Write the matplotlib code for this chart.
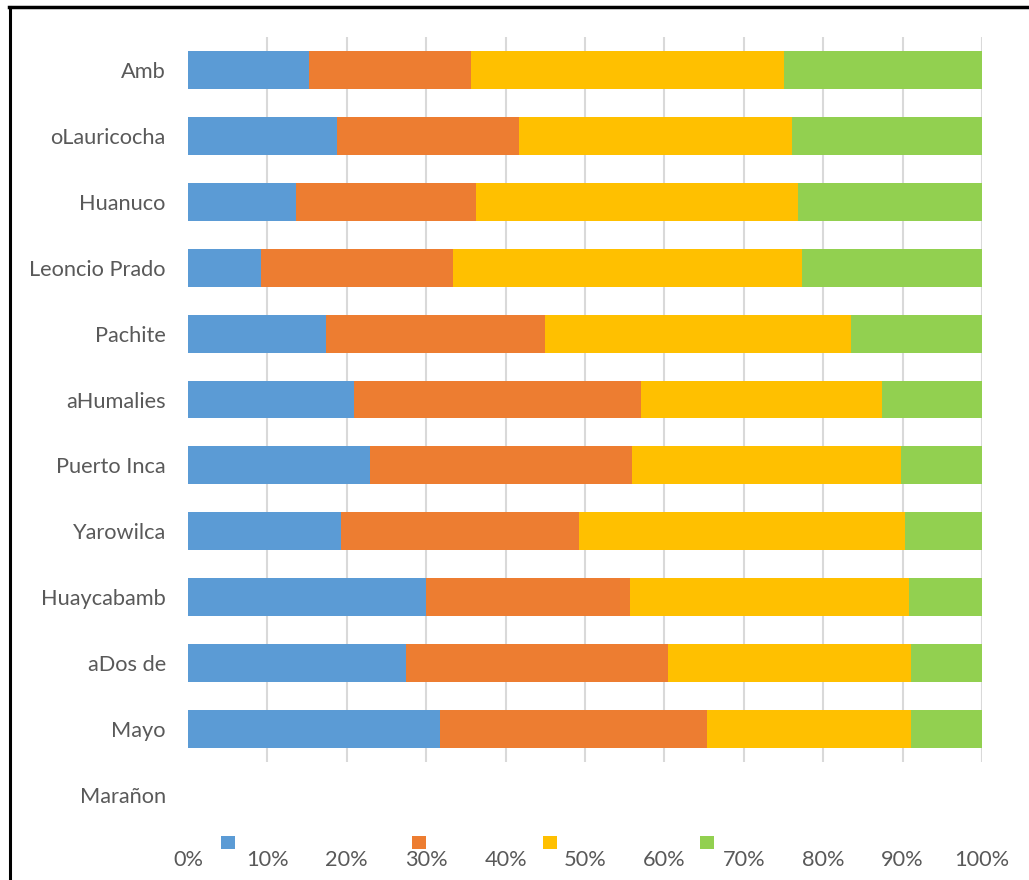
import matplotlib
matplotlib.use("Agg")
import matplotlib.pyplot as plt
from matplotlib.patches import Patch
from matplotlib.lines import Line2D
import numpy as np

plt.rcParams['font.family'] = ['Lato', 'DejaVu Sans']

categories = ["Amb", "oLauricocha", "Huanuco", "Leoncio Prado", "Pachite",
              "aHumalies", "Puerto Inca", "Yarowilca", "Huaycabamb", "aDos de",
              "Mayo", "Marañon"]
serie1 = [15.25, 18.8, 13.6, 9.2, 17.4, 20.9, 22.9, 19.3, 30.0, 27.5, 31.7, 0]
serie2 = [20.4, 22.9, 22.7, 24.2, 27.5, 36.1, 33.0, 30.0, 25.7, 32.9, 33.7, 0]
serie3 = [39.35, 34.4, 40.5, 43.9, 38.6, 30.4, 33.9, 41.0, 35.1, 30.6, 25.7, 0]
serie4 = [25.0, 23.9, 23.2, 22.7, 16.5, 12.6, 10.2, 9.7, 9.2, 9.0, 8.9, 0]
xtick_labels = ["0%", "10%", "20%", "30%", "40%", "50%", "60%", "70%", "80%", "90%", "100%"]

colors = ["#5B9BD5", "#ED7D31", "#FFC000", "#92D050"]
text_color = "#595959"
fs = 15.7

W, H = 1029, 880
fig = plt.figure(figsize=(W / 100, H / 100), dpi=100)
ax = fig.add_axes([188 / W, (H - 762) / H, 794 / W, 725 / H])

series = [serie1, serie2, serie3, serie4]
data = np.array(series, dtype=float)
totals = data.sum(axis=0)
with np.errstate(invalid="ignore", divide="ignore"):
    pct = np.where(totals > 0, data / totals * 100, 0)

n_shown = len(categories) - 1
ypos = np.arange(len(categories))
left = np.zeros(len(categories))
for i in range(4):
    ax.barh(ypos, pct[i], left=left, height=0.575, color=colors[i], zorder=3)
    left += pct[i]

ax.set_xlim(0, 100)
ax.set_ylim(n_shown - 0.5, -0.5)
ax.set_xticks(np.arange(0, 101, 10))
ax.set_xticklabels(xtick_labels)
ax.set_yticks(ypos[:n_shown])
ax.set_yticklabels(categories[:n_shown])
ax.tick_params(axis='both', length=0, labelsize=fs, colors=text_color)
ax.tick_params(axis='y', pad=16)
ax.tick_params(axis='x', pad=63)
for s in ax.spines.values():
    s.set_visible(False)
ax.xaxis.grid(True, color="#D9D9D9", linewidth=1.5, zorder=0)
ax.set_axisbelow(True)
gl = ax.get_xgridlines()
gl[0].set_visible(False)

ax.annotate(categories[-1], xy=(0, ypos[-1]), xycoords=ax.get_yaxis_transform(),
            xytext=(-22, 0), textcoords='offset pixels', ha='right', va='center_baseline',
            fontsize=fs, color=text_color, annotation_clip=False)

# legend markers (no labels)
leg_x = [220.5, 412, 542.5, 699.5]
for c, lx in zip(colors, leg_x):
    fig.legend(handles=[Patch(facecolor=c, edgecolor='none')], labels=[''],
               loc='center left', bbox_to_anchor=(lx / W, (H - 843) / H),
               frameon=False, fontsize=10.08, handlelength=1.0, handleheight=1.0,
               handletextpad=0, borderpad=0, borderaxespad=0)

# outer frame (left and top)
fig.add_artist(Line2D([9.5 / W, 9.5 / W], [0, (H - 7.5) / H], transform=fig.transFigure,
                      color='black', linewidth=2.2))
fig.add_artist(Line2D([8.5 / W, 1.0], [(H - 7.5) / H, (H - 7.5) / H], transform=fig.transFigure,
                      color='black', linewidth=2.5))

fig.savefig("out.png", dpi=100)
